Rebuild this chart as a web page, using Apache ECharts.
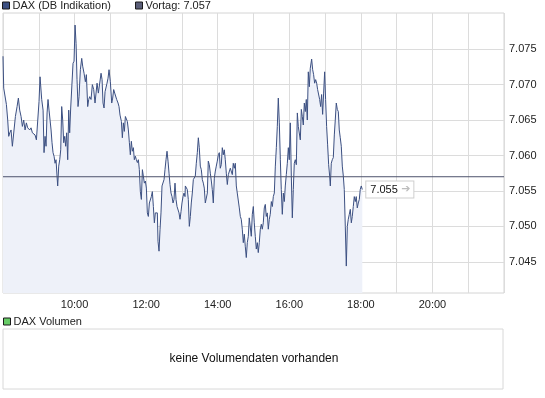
<!DOCTYPE html>
<html>
<head>
<meta charset="utf-8">
<script src="https://cdn.jsdelivr.net/npm/echarts@6/dist/echarts.min.js"></script>
<style>
html, body { margin: 0; padding: 0; background: #fff; }
#chartmain { width: 545px; height: 398px; }
</style>
</head>
<body>
<div id="chartmain"></div>
<script>
// Minuten nach 08:00 und Kurse (DAX, DB Indikation)
var minutes = [
	0, 1.2, 3.5, 5.7, 7.9, 9.6, 11.3, 13.5, 15.7, 18.0, 20.8, 23.6, 25.8, 28.0, 30.3, 32.5, 34.7, 37.0, 39.2, 41.4,
	44.8, 47.0, 49.3, 51.5, 53.7, 56.0, 58.2, 60.4, 62.1, 63.8, 64.9, 67.2, 68.8, 70.5, 72.2, 73.9, 75.5, 77.2, 78.9, 80.6,
	82.2, 83.9, 85.6, 87.3, 88.9, 90.6, 91.7, 93.4, 95.1, 96.8, 98.4, 100.1, 101.8, 103.5, 105.1, 106.8, 108.5, 110.2, 111.8, 113.5,
	115.2, 117.4, 119.1, 120.8, 122.5, 124.1, 125.8, 127.5, 129.7, 132.0, 133.6, 135.9, 138.1, 139.8, 142.0, 143.7, 145.4, 147.6, 149.8, 152.1,
	154.3, 155.4, 157.7, 159.9, 162.1, 164.4, 166.1, 167.7, 169.4, 171.1, 172.8, 174.4, 176.1, 177.8, 180.0, 182.3, 183.9, 185.6, 187.3, 189.0,
	190.6, 192.9, 194.5, 196.2, 198.5, 200.1, 201.8, 203.5, 205.2, 206.8, 208.5, 210.2, 211.9, 213.5, 215.2, 216.9, 218.6, 220.2, 221.9, 223.6,
	225.3, 227.0, 228.6, 230.3, 232.0, 233.7, 235.3, 237.0, 238.7, 240.4, 242.0, 243.7, 245.4, 247.1, 248.7, 250.4, 252.1, 253.8, 255.4, 257.1,
	258.8, 259.9, 261.6, 263.3, 264.9, 266.6, 268.3, 270.0, 271.6, 273.3, 275.0, 276.7, 278.4, 280.0, 281.7, 283.4, 285.1, 286.7, 288.4, 290.1,
	291.8, 293.4, 295.1, 296.8, 298.5, 300.1, 301.8, 303.5, 305.2, 305.7, 307.4, 309.0, 310.7, 312.4, 314.1, 315.7, 317.4, 319.1, 320.8, 322.4,
	324.1, 325.8, 327.5, 329.1, 330.8, 332.5, 334.2, 335.9, 337.5, 339.2, 340.9, 342.6, 344.2, 345.9, 347.6, 349.3, 350.9, 352.6, 354.3, 356.0,
	357.6, 359.3, 361.0, 362.7, 364.3, 366.0, 367.7, 369.4, 371.0, 372.7, 374.4, 376.1, 377.8, 379.4, 381.1, 382.8, 384.5, 386.1, 387.8, 389.5,
	391.2, 392.8, 394.5, 396.2, 397.9, 399.5, 401.2, 402.9, 404.6, 406.2, 407.9, 409.6, 411.3, 412.9, 414.6, 416.3, 418.0, 419.7, 421.3, 423.0,
	424.7, 426.4, 428.0, 429.7, 431.4, 433.1, 434.7, 436.4, 438.1, 439.8, 441.4, 443.1, 444.8, 446.5, 448.1, 449.9, 451.6, 453.2, 454.9, 456.6,
	458.3, 459.9, 461.6, 463.3, 465.0, 466.6, 468.3, 470.0, 471.7, 473.3, 475.0, 476.7, 478.4, 480.0, 481.7, 483.4, 485.1, 486.7, 488.4, 490.1,
	491.8, 493.5, 495.1, 496.8, 498.5, 500.2, 501.8, 503.5, 505.2, 506.9, 508.5, 510.2, 511.9, 513.6, 515.2, 517.5, 519.2, 520.8, 522.5, 524.2,
	525.9, 527.5, 529.2, 530.9, 532.6, 534.2, 535.9, 537.6, 539.3, 540.9, 542.6, 544.3, 546.0, 547.7, 548.8, 550.4, 552.1, 553.8, 555.5, 557.1,
	558.8, 560.5, 562.2, 563.8, 565.5, 567.2, 568.9, 570.6, 572.2, 573.9, 575.6, 577.3, 578.9, 580.6, 582.3, 584.0, 585.6, 587.3, 589.0, 590.7,
	592.3, 594.0, 595.7, 597.4, 599.0, 600.7, 602.4
];
var prices = [
	7074.0, 7069.5, 7069.3, 7067.2, 7065.0, 7062.7, 7063.2, 7063.6, 7061.3, 7061.1, 7065.5, 7066.9, 7068.1, 7066.4, 7065.5, 7064.1, 7065.0, 7063.6, 7064.6, 7063.9,
	7063.6, 7063.9, 7063.2, 7063.4, 7062.9, 7062.2, 7062.2, 7067.6, 7071.1, 7070.9, 7067.9, 7066.4, 7060.4, 7062.7, 7061.3, 7066.0, 7067.9, 7066.4, 7065.0, 7063.6,
	7061.8, 7060.4, 7059.9, 7058.9, 7059.4, 7057.1, 7055.7, 7058.5, 7059.4, 7060.8, 7066.9, 7065.0, 7061.8, 7062.7, 7061.3, 7063.2, 7059.4, 7066.4, 7063.2, 7066.7,
	7066.9, 7073.0, 7073.3, 7078.4, 7075.8, 7070.7, 7066.9, 7068.3, 7072.1, 7073.7, 7072.6, 7071.6, 7070.4, 7071.4, 7066.9, 7067.9, 7068.3, 7067.9, 7070.0, 7069.3,
	7067.4, 7067.6, 7070.2, 7068.8, 7068.6, 7071.6, 7070.7, 7067.4, 7066.7, 7069.0, 7068.8, 7070.2, 7070.9, 7072.1, 7070.4, 7067.4, 7068.1, 7069.3, 7068.8, 7069.0,
	7067.9, 7067.4, 7066.9, 7065.7, 7064.8, 7062.5, 7064.6, 7063.4, 7065.5, 7065.3, 7064.8, 7063.6, 7061.8, 7060.1, 7062.0, 7060.6, 7061.1, 7059.4, 7059.9, 7059.4,
	7059.0, 7059.4, 7058.0, 7054.9, 7053.8, 7058.0, 7057.1, 7056.1, 7056.4, 7055.4, 7051.9, 7051.4, 7053.3, 7053.3, 7054.2, 7054.9, 7052.8, 7050.5, 7051.9, 7052.1,
	7051.9, 7047.9, 7046.5, 7049.6, 7051.9, 7055.7, 7055.9, 7056.6, 7058.0, 7059.4, 7060.6, 7059.2, 7057.5, 7055.9, 7054.7, 7054.2, 7053.3, 7053.8, 7056.1, 7053.8,
	7052.8, 7052.6, 7051.9, 7051.0, 7052.1, 7053.3, 7054.2, 7054.7, 7054.2, 7055.7, 7055.9, 7055.2, 7053.8, 7050.0, 7051.4, 7053.3, 7054.7, 7056.6, 7056.8, 7057.1,
	7058.9, 7060.4, 7062.5, 7061.1, 7058.5, 7058.0, 7056.6, 7056.1, 7055.4, 7053.3, 7053.1, 7054.7, 7059.2, 7058.7, 7057.5, 7056.4, 7055.2, 7053.3, 7056.8, 7057.8,
	7058.5, 7059.2, 7060.1, 7060.4, 7058.2, 7058.7, 7061.1, 7060.1, 7060.8, 7059.4, 7057.5, 7055.9, 7057.3, 7057.1, 7058.2, 7058.0, 7057.3, 7058.9, 7058.2, 7058.9,
	7055.7, 7054.7, 7054.5, 7052.6, 7051.4, 7051.0, 7049.6, 7047.7, 7048.9, 7047.2, 7045.6, 7047.7, 7048.6, 7051.2, 7051.0, 7048.6, 7051.7, 7052.8, 7050.5, 7048.6,
	7046.8, 7047.7, 7046.3, 7047.7, 7049.6, 7050.3, 7049.6, 7050.5, 7052.6, 7053.1, 7051.4, 7051.9, 7049.6, 7051.0, 7051.7, 7053.5, 7052.8, 7054.2, 7054.7, 7058.5,
	7061.1, 7064.1, 7068.1, 7064.6, 7059.4, 7055.2, 7051.7, 7054.7, 7053.5, 7055.7, 7057.3, 7058.9, 7061.1, 7059.4, 7064.6, 7057.1, 7051.2, 7055.2, 7058.9, 7059.4,
	7058.7, 7066.0, 7064.1, 7063.9, 7062.2, 7066.5, 7065.5, 7064.3, 7067.4, 7066.2, 7067.9, 7065.0, 7071.8, 7069.7, 7072.3, 7073.6, 7072.1, 7071.4, 7070.2, 7070.7,
	7070.2, 7069.3, 7069.3, 7067.9, 7066.9, 7068.6, 7065.8, 7068.8, 7071.8, 7067.9, 7064.1, 7061.5, 7058.7, 7057.1, 7055.7, 7058.9, 7059.4, 7059.7, 7062.9, 7065.0,
	7067.4, 7066.5, 7066.2, 7063.6, 7062.5, 7061.3, 7058.5, 7057.1, 7055.2, 7050.0, 7044.4, 7050.0, 7051.0, 7051.7, 7052.4, 7050.5, 7051.4, 7052.8, 7054.2, 7053.5,
	7054.2, 7052.6, 7053.3, 7053.8, 7055.2, 7055.7, 7055.2
];
var prevClose = 7057;
var priceTicks = [7045, 7050, 7055, 7060, 7065, 7070, 7075];
var hourLabels = [120, 240, 360, 480, 600, 720]; // 10:00 ... 20:00

var fontName = 'Liberation Sans';

function fmtPrice(v) {
	return (v / 1000).toFixed(3);
}
function fmtTime(m) {
	var h = 8 + Math.round(m / 60);
	return h + ':00';
}

var daxData = [];
for (var i = 0; i < minutes.length; i++) {
	daxData.push([minutes[i], prices[i]]);
}

// gleiche Legendenoptik fuer alle drei Eintraege
function legendAt(name, left, top) {
	return {
		data: [name],
		left: left, top: top, padding: 0,
		itemWidth: 7, itemHeight: 7, icon: 'rect',
		itemStyle: { borderColor: '#1a1a1a', borderWidth: 1 },
		textStyle: { fontSize: 11, color: '#222', fontFamily: fontName, padding: [0, 0, 0, -2] }
	};
}

var option = {
	animation: false,
	backgroundColor: '#fff',
	textStyle: { fontFamily: fontName },
	legend: [
		legendAt('DAX (DB Indikation)', 2, 0),
		legendAt('Vortag: ' + fmtPrice(prevClose), 135, 0),
		legendAt('DAX Volumen', 3, 316)
	],
	grid: [{
		left: 3, top: 13, right: 41, bottom: 105,
		show: true, borderColor: '#d4d4d4', borderWidth: 1,
		containLabel: false
	}, {
		left: 3, top: 329, right: 42, height: 60,
		show: true, borderColor: '#d8d8d8', borderWidth: 1,
		containLabel: false
	}],
	xAxis: [{
		type: 'value', gridIndex: 0,
		min: 0, max: 840, interval: 60,
		axisLine: { show: false },
		axisTick: { show: false },
		splitLine: { show: true, lineStyle: { color: '#dcdcdc', width: 1 } },
		axisLabel: {
			margin: 6, fontSize: 11, color: '#222', fontFamily: fontName,
			customValues: hourLabels,
			formatter: fmtTime
		}
	}, {
		type: 'value', gridIndex: 1, show: false, min: 0, max: 840
	}],
	yAxis: [{
		type: 'value', gridIndex: 0, position: 'right',
		min: 7040.6, max: 7080.1,
		axisLine: { show: false },
		axisTick: { show: false, customValues: priceTicks },
		splitLine: { show: true, lineStyle: { color: '#dcdcdc', width: 1 } },
		axisLabel: {
			margin: 5, fontSize: 11, color: '#222', fontFamily: fontName,
			customValues: priceTicks,
			formatter: fmtPrice
		}
	}, {
		type: 'value', gridIndex: 1, show: false, min: 0, max: 1
	}],
	graphic: [{
		type: 'text',
		x: 254, y: 359,
		style: {
			text: 'keine Volumendaten vorhanden',
			font: '12px ' + fontName,
			fill: '#111',
			textAlign: 'center',
			textVerticalAlign: 'middle'
		}
	}],
	series: [{
		name: 'DAX (DB Indikation)',
		type: 'line',
		xAxisIndex: 0, yAxisIndex: 0,
		data: daxData,
		showSymbol: false,
		color: '#3c5082',
		lineStyle: { color: '#3c5082', width: 1 },
		areaStyle: { color: '#eef1f9', opacity: 1, origin: 'start' },
		endLabel: {
			show: true,
			distance: 4,
			formatter: function(p) {
				return '{v|' + fmtPrice(p.value[1]) + '} {a|➔}';
			},
			backgroundColor: '#fff',
			borderColor: '#cfcfcf',
			borderWidth: 1,
			padding: [2, 3, 2, 4],
			rich: {
				v: { fontSize: 11, color: '#111', fontFamily: fontName },
				a: { fontSize: 11, color: '#bdbdbd', fontFamily: 'DejaVu Sans' }
			}
		}
	}, {
		name: 'Vortag: ' + fmtPrice(prevClose),
		type: 'line',
		xAxisIndex: 0, yAxisIndex: 0,
		data: [[0, prevClose], [840, prevClose]],
		showSymbol: false,
		color: '#5a5e78',
		lineStyle: { color: '#4c526c', width: 1 }
	}, {
		name: 'DAX Volumen',
		type: 'bar',
		xAxisIndex: 1, yAxisIndex: 1,
		data: [],
		color: '#66cc66'
	}]
};

var myChart = echarts.init(document.getElementById('chartmain'));
myChart.setOption(option);
</script>
</body>
</html>
